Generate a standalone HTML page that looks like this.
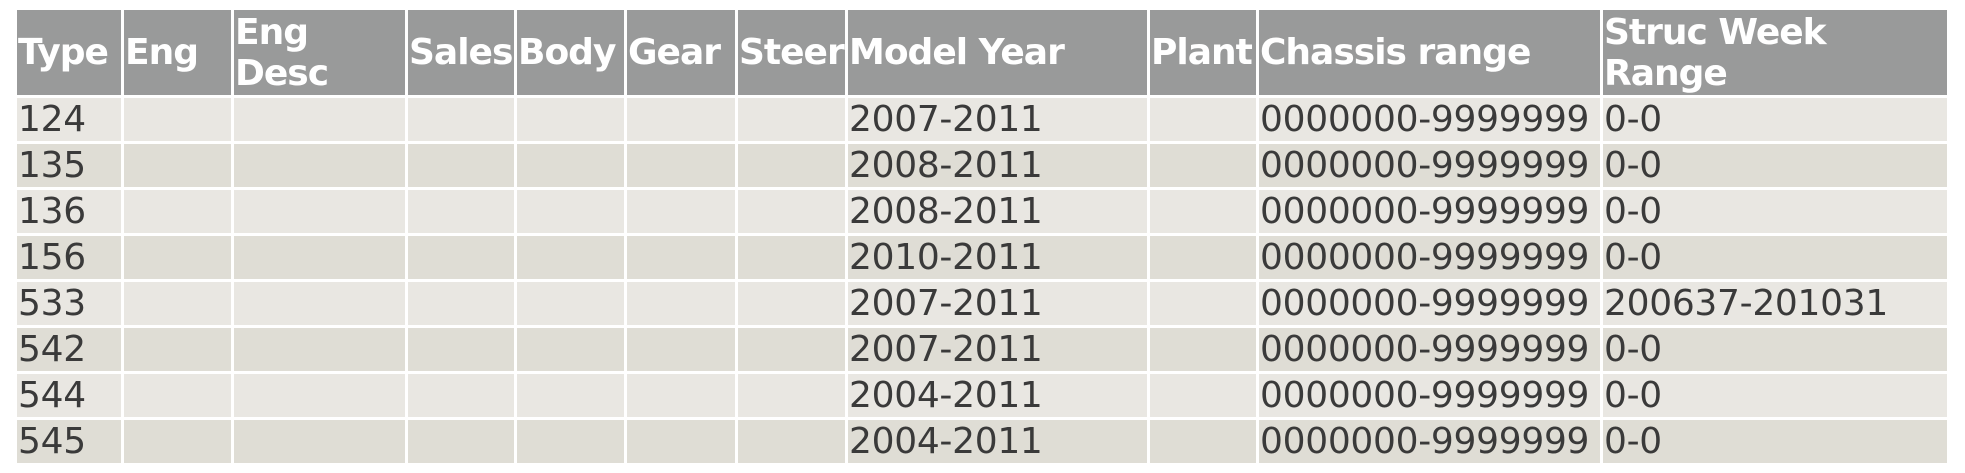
<!DOCTYPE html>
<html><head><meta charset="utf-8"><style>
html,body{margin:0;padding:0;background:#fff;width:1965px;height:473px;overflow:hidden}
table{position:absolute;left:14px;top:7px;border-collapse:collapse;table-layout:fixed;width:1933px;font-family:"DejaVu Sans","Liberation Sans",sans-serif}
td,th{border:3px solid #fff;padding:0 1px;overflow:hidden;white-space:nowrap;vertical-align:middle;text-align:left}
th{background:#999a9a;color:#fff;font-weight:bold;font-size:36px;line-height:41px;letter-spacing:-1px}
tr.h{height:88px}
td{font-size:36px;color:#3a3a3a;line-height:40px;letter-spacing:-0.3px}
tr.o,tr.e{height:46px}
tr.o td{background:#e9e7e2}
tr.e td{background:#dfddd5}
</style></head><body>
<table>
<colgroup><col style="width:107px"><col style="width:110px"><col style="width:174px"><col style="width:109px"><col style="width:110px"><col style="width:111px"><col style="width:110px"><col style="width:302px"><col style="width:109px"><col style="width:344px"><col style="width:347px"></colgroup>
<tr class="h"><th>Type</th><th>Eng</th><th>Eng<br>Desc</th><th>Sales</th><th>Body</th><th>Gear</th><th>Steer</th><th>Model Year</th><th>Plant</th><th>Chassis range</th><th>Struc Week<br>Range</th></tr>
<tr class="o"><td>124</td><td></td><td></td><td></td><td></td><td></td><td></td><td>2007-2011</td><td></td><td>0000000-9999999</td><td>0-0</td></tr>
<tr class="e"><td>135</td><td></td><td></td><td></td><td></td><td></td><td></td><td>2008-2011</td><td></td><td>0000000-9999999</td><td>0-0</td></tr>
<tr class="o"><td>136</td><td></td><td></td><td></td><td></td><td></td><td></td><td>2008-2011</td><td></td><td>0000000-9999999</td><td>0-0</td></tr>
<tr class="e"><td>156</td><td></td><td></td><td></td><td></td><td></td><td></td><td>2010-2011</td><td></td><td>0000000-9999999</td><td>0-0</td></tr>
<tr class="o"><td>533</td><td></td><td></td><td></td><td></td><td></td><td></td><td>2007-2011</td><td></td><td>0000000-9999999</td><td>200637-201031</td></tr>
<tr class="e"><td>542</td><td></td><td></td><td></td><td></td><td></td><td></td><td>2007-2011</td><td></td><td>0000000-9999999</td><td>0-0</td></tr>
<tr class="o"><td>544</td><td></td><td></td><td></td><td></td><td></td><td></td><td>2004-2011</td><td></td><td>0000000-9999999</td><td>0-0</td></tr>
<tr class="e"><td>545</td><td></td><td></td><td></td><td></td><td></td><td></td><td>2004-2011</td><td></td><td>0000000-9999999</td><td>0-0</td></tr>
</table>
</body></html>
